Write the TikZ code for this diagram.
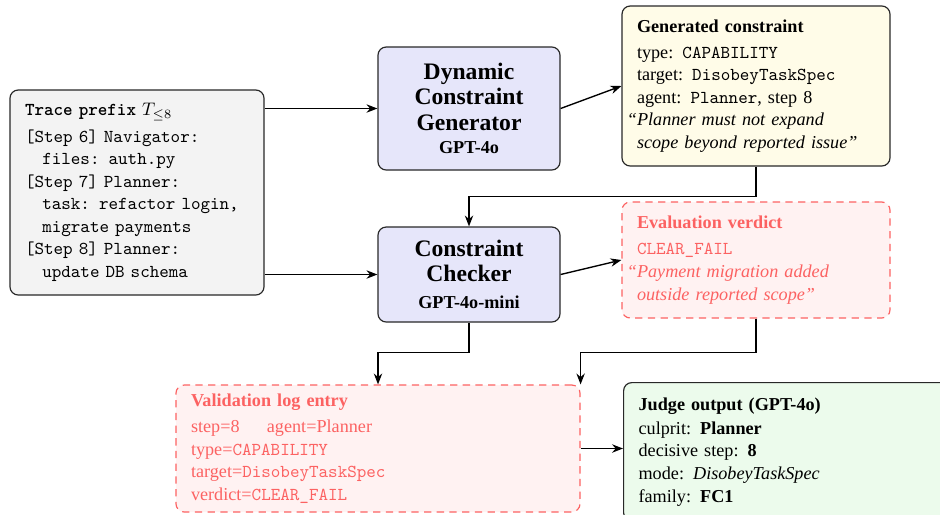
\documentclass[tikz,border=0pt]{standalone}
\usepackage[no-math]{fontspec}
\setmainfont{Liberation Serif}
\usetikzlibrary{arrows.meta}
\definecolor{tracegray}{RGB}{243,243,243}
\definecolor{lavender}{RGB}{230,230,250}
\definecolor{cream}{RGB}{255,252,232}
\definecolor{mint}{RGB}{236,251,236}
\definecolor{blush}{RGB}{255,242,242}
\definecolor{alertred}{RGB}{252,98,98}
\definecolor{edgegray}{RGB}{40,40,40}
\begin{document}
\begin{tikzpicture}[x=0.55pt, y=-0.55pt, >={Stealth[length=6pt,width=4.6pt]},
  font=\fontsize{10}{12.4}\selectfont,
  panel/.style={draw=edgegray, line width=0.65pt, rounded corners=4.5pt, inner xsep=8.25pt, inner ysep=0pt},
  modelpanel/.style={panel, fill=lavender, align=center, inner xsep=4pt, text width=92pt, minimum width=100.1pt, font=\bfseries\fontsize{13}{14}\selectfont},
  notepanel/.style={panel, fill=#1, align=left},
  alertpanel/.style={panel, draw=alertred, dash pattern=on 4pt off 3pt, fill=blush, text=alertred, align=left},
  flow/.style={->, line width=0.75pt}]
\clip (0,0) rectangle (940,514);
\node[notepanel=tracegray, text width=123.2pt, minimum height=112.75pt] (trace) at (137,192.5) {\texttt{\textbf{Trace prefix}} $T_{\leq 8}$\\[2pt]
\texttt{[Step 6] Navigator:}\\
\hspace*{9.5pt}\texttt{files: auth.py}\\
\texttt{[Step 7] Planner:}\\
\hspace*{9.5pt}\texttt{task: refactor login,}\\
\hspace*{9.5pt}\texttt{migrate payments}\\
\texttt{[Step 8] Planner:}\\
\hspace*{9.5pt}\texttt{update DB schema}};
\node[modelpanel, minimum height=67.65pt] (gen) at (469,108.5) {Dynamic\\Constraint\\Generator\\[-1pt]{\fontsize{10}{12}\selectfont GPT-4o}};
\node[modelpanel, minimum height=52.25pt] (chk) at (469,274.5) {Constraint\\Checker\\[1pt]{\fontsize{10}{12}\selectfont GPT-4o-mini}};
\node[notepanel=cream, text width=130.9pt, minimum height=88pt] (gc) at (756,86) {\textbf{Generated constraint}\\[2pt]
type: \texttt{CAPABILITY}\\
target: \texttt{DisobeyTaskSpec}\\
agent: \texttt{Planner}, step 8\\
\textit{\llap{``}Planner must not expand\\scope beyond reported issue''}};
\node[alertpanel, text width=130.9pt, minimum height=63.8pt] (verdict) at (756,260) {\textbf{Evaluation verdict}\\[2pt]
\texttt{CLEAR\_FAIL}\\
\textit{\llap{``}Payment migration added\\outside reported scope''}};
\node[alertpanel, text width=205.7pt, minimum height=69.85pt] (val) at (378,448.5) {\textbf{Validation log entry}\\[2pt]
step=8\hspace{15pt}agent=Planner\\
type=\texttt{CAPABILITY}\\
target=\texttt{DisobeyTaskSpec}\\
verdict=\texttt{CLEAR\_FAIL}};
\node[notepanel=mint, anchor=north west, text width=162pt, minimum height=76pt] (judge) at (623,382) {\textbf{Judge output (GPT-4o)}\\[1pt]
culprit: \textbf{Planner}\\
decisive step: \textbf{8}\\
mode: \textit{DisobeyTaskSpec}\\
family: \textbf{FC1}};
\draw[flow] (trace.east |- gen) -- (gen.west);
\draw[flow] (trace.east |- chk) -- (chk.west);
\draw[flow] (gen.east) -- (gc.west);
\draw[flow] (chk.east) -- (verdict.west);
\draw[flow] (gc.south) -- ++(0,30) -| (chk.north);
\draw[flow] (chk.south) -- ++(0,30) -| (val.north);
\draw[flow] (verdict.south) -- ++(0,34) -| (val.north east);
\draw[flow] (val.east) -- (val.east -| judge.west);
\end{tikzpicture}
\end{document}
